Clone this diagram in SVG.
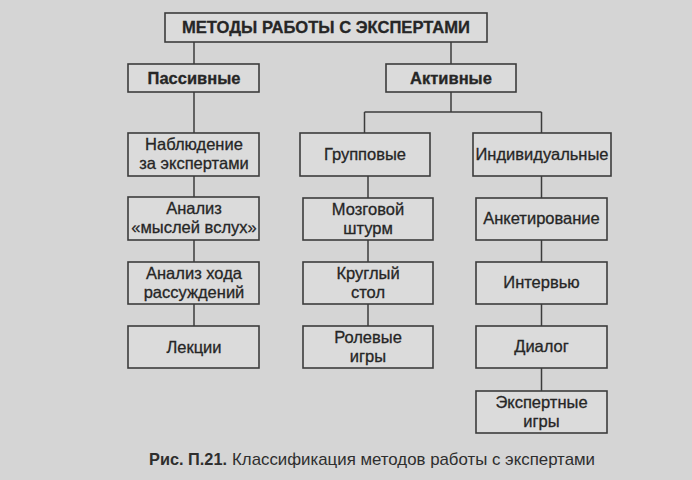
<svg xmlns="http://www.w3.org/2000/svg" width="692" height="480" viewBox="0 0 692 480">
<style>
.bg{fill:#d5d5d5}
.box{fill:#dbdbdb;stroke:#3c3c3c;stroke-width:1.6}
.t{font-family:"Liberation Sans",Arial,sans-serif;font-size:16.5px;fill:#262626;stroke:#262626;stroke-width:0.3;text-anchor:middle}
.b{font-weight:bold}
.ln{stroke:#3c3c3c;stroke-width:1.5;fill:none}
.cap{font-family:"Liberation Sans",Arial,sans-serif;font-size:17px;fill:#2e2e2e}
</style>
<rect class="bg" x="0" y="0" width="692" height="480"/>
<g id="connectors">
<path class="ln" d="M194 42V64M451 42V64"/>
<path class="ln" d="M194 92V133M194 176V197M194 240V262M194 304V326"/>
<path class="ln" d="M451 92V112M364.5 112H541.5M364.5 112V133M541.5 112V133"/>
<path class="ln" d="M368 176V198M368 240V262M368 304V326"/>
<path class="ln" d="M541.5 176V198M541.5 240V262M541.5 304V326M541.5 368V391"/>
</g>
<g id="root"><rect class="box" x="165" y="13" width="322" height="29"/><text class="t b" x="326" y="33" textLength="288" lengthAdjust="spacingAndGlyphs">МЕТОДЫ РАБОТЫ С ЭКСПЕРТАМИ</text></g>
<g id="passive"><rect class="box" x="128" y="64" width="131" height="28"/><text class="t b" x="194" y="84">Пассивные</text></g>
<g id="active"><rect class="box" x="386" y="64" width="130" height="28"/><text class="t b" x="451" y="84">Активные</text></g>
<g id="observation"><rect class="box" x="128" y="133" width="131" height="43"/><text class="t" x="194" y="150">Наблюдение</text><text class="t" x="194" y="168.5">за экспертами</text></g>
<g id="thinkaloud"><rect class="box" x="128" y="197" width="131" height="43"/><text class="t" x="194" y="214">Анализ</text><text class="t" x="194" y="232.5">«мыслей вслух»</text></g>
<g id="reasoning"><rect class="box" x="128" y="262" width="131" height="42"/><text class="t" x="194" y="279">Анализ хода</text><text class="t" x="194" y="297.5">рассуждений</text></g>
<g id="lectures"><rect class="box" x="128" y="326" width="131" height="42"/><text class="t" x="194" y="353">Лекции</text></g>
<g id="group"><rect class="box" x="300" y="133" width="130" height="43"/><text class="t" x="365" y="160">Групповые</text></g>
<g id="brainstorm"><rect class="box" x="303" y="198" width="130" height="42"/><text class="t" x="368" y="215">Мозговой</text><text class="t" x="368" y="233.5">штурм</text></g>
<g id="roundtable"><rect class="box" x="303" y="262" width="130" height="42"/><text class="t" x="368" y="279">Круглый</text><text class="t" x="368" y="297.5">стол</text></g>
<g id="roleplay"><rect class="box" x="303" y="326" width="130" height="42"/><text class="t" x="368" y="343">Ролевые</text><text class="t" x="368" y="361.5">игры</text></g>
<g id="individual"><rect class="box" x="473" y="133" width="138" height="43"/><text class="t" x="542" y="160">Индивидуальные</text></g>
<g id="survey"><rect class="box" x="476" y="198" width="131" height="42"/><text class="t" x="541.5" y="224">Анкетирование</text></g>
<g id="interview"><rect class="box" x="476" y="262" width="131" height="42"/><text class="t" x="541.5" y="288">Интервью</text></g>
<g id="dialog"><rect class="box" x="476" y="326" width="131" height="42"/><text class="t" x="541.5" y="352">Диалог</text></g>
<g id="expertgames"><rect class="box" x="476" y="391" width="131" height="42"/><text class="t" x="541.5" y="408">Экспертные</text><text class="t" x="541.5" y="426.5">игры</text></g>
<g id="caption">
<text class="cap b" x="149" y="465" textLength="78" lengthAdjust="spacingAndGlyphs">Рис. П.21.</text>
<text class="cap" x="232" y="465" textLength="363" lengthAdjust="spacingAndGlyphs">Классификация методов работы с экспертами</text>
</g>
</svg>
